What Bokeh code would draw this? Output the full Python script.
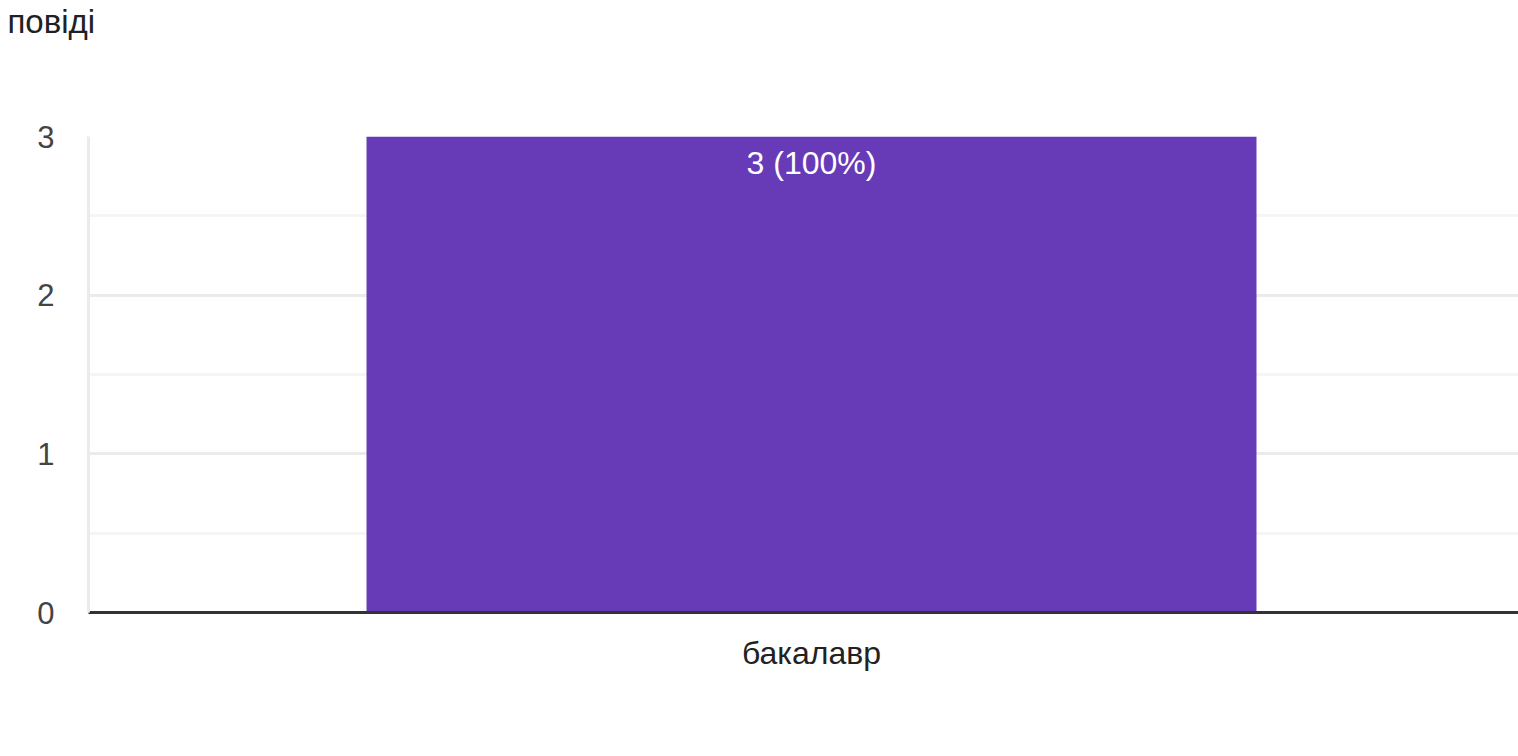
from bokeh.plotting import figure
from bokeh.models import Range1d, FixedTicker, ColumnDataSource, Title
from bokeh.core.properties import value
from bokeh.embed import file_html
from bokeh.resources import INLINE

# data
categories = ["бакалавр"]
counts = [3]
bar_labels = ["3 (100%)"]
title_text = "повіді"
y_ticks = [0, 1, 2, 3]
y_minor_ticks = [0.5, 1.5, 2.5]

positions = list(range(len(categories)))
src = ColumnDataSource(dict(x=positions, top=counts, label=bar_labels))

FONT = "Liberation Sans"

p = figure(width=1518, height=748, output_backend="svg", toolbar_location=None,
           x_range=Range1d(-0.8124, 0.7944), y_range=Range1d(0, 3),
           min_border_left=88, min_border_right=0, min_border_top=136, min_border_bottom=136)
p.outline_line_color = None
p.background_fill_color = "white"
p.border_fill_color = "white"

# spacer (nearest the frame), then the visible title above it
p.add_layout(Title(text=" ", align="left", standoff=58,
                   text_font=FONT, text_font_size="31px"), "above")
p.add_layout(Title(text=title_text, align="left", vertical_align="top", offset=-81, standoff=0,
                   text_font=FONT, text_font_size="33px", text_font_style="normal",
                   text_color="#202124"), "above")

p.vbar(x="x", top="top", width=1.0, bottom=0, source=src,
       fill_color="#673ab7", line_color=None)
p.text(x="x", y="top", text="label", source=src, text_align="center",
       text_baseline="top", y_offset=8, text_color="white",
       text_font=value(FONT), text_font_size="32px")

# axes
p.xaxis.ticker = FixedTicker(ticks=positions)
p.xaxis.major_label_overrides = {i: c for i, c in enumerate(categories)}
p.xaxis.axis_line_color = "#333333"
p.xaxis.axis_line_width = 3
p.xaxis.major_tick_line_color = None
p.xaxis.minor_tick_line_color = None
p.xaxis.major_label_text_font = FONT
p.xaxis.major_label_text_font_size = "32px"
p.xaxis.major_label_text_color = "#222222"
p.xaxis.major_label_standoff = 16

p.yaxis.ticker = FixedTicker(ticks=y_ticks, minor_ticks=y_minor_ticks)
p.yaxis.axis_line_color = "#ebebeb"
p.yaxis.axis_line_width = 3
p.yaxis.major_tick_line_color = None
p.yaxis.minor_tick_line_color = None
p.yaxis.major_label_text_font = FONT
p.yaxis.major_label_text_font_size = "31px"
p.yaxis.major_label_text_color = "#444444"
p.yaxis.major_label_standoff = 28

p.xgrid.grid_line_color = None
p.ygrid.grid_line_color = "#ebebeb"
p.ygrid.grid_line_width = 3
p.ygrid.minor_grid_line_color = "#f5f5f5"
p.ygrid.minor_grid_line_width = 3

open("out.html", "w").write(file_html(p, INLINE))
